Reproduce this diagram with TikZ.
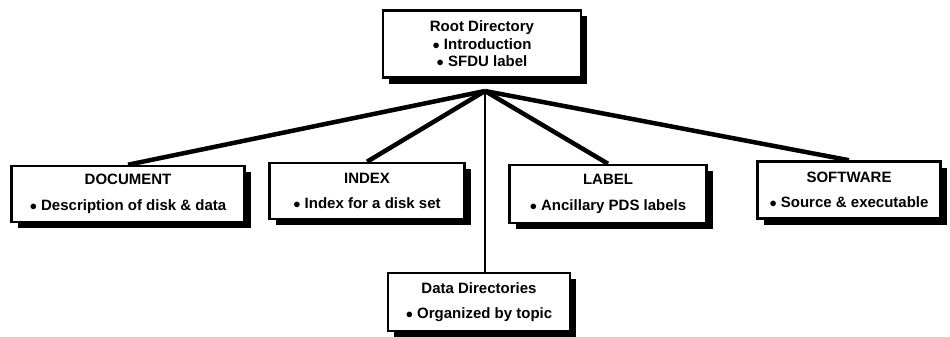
\documentclass[tikz,border=0pt]{standalone}
\usepackage{fontspec}
\setmainfont{Liberation Sans}
\usetikzlibrary{shadows}

\begin{document}
\begin{tikzpicture}[x=1pt,y=-1pt,
	dirbox/.style={draw,line width=2.5pt,fill=white,align=center,inner sep=0pt,
		font=\fontsize{15}{17.5}\selectfont\bfseries,
		drop shadow={shadow xshift=6pt,shadow yshift=-6pt,opacity=1,fill=black}},
	branch/.style={line width=4.5pt},
	stem/.style={line width=2.5pt}]
	\useasboundingbox (0,0) rectangle (950,337);
	
	\node[dirbox,minimum width=198pt,minimum height=67pt] (root) at (482,44) {Root Directory\\$\bullet$ Introduction\\$\bullet$ SFDU label};
	\coordinate (hub) at (485,91);
	
	\node[dirbox,minimum width=233pt,minimum height=56pt] (doc) at (128,194) {DOCUMENT\\[8pt]$\bullet$ Description of disk \& data};
	\node[dirbox,minimum width=195pt,minimum height=56pt] (index) at (367,191) {INDEX\\[8pt]$\bullet$ Index for a disk set};
	\node[dirbox,minimum width=197pt,minimum height=58pt] (label) at (608,194) {LABEL\\[8pt]$\bullet$ Ancillary PDS labels};
	\node[dirbox,minimum width=183pt,minimum height=57pt] (soft) at (849,190) {SOFTWARE\\[8pt]$\bullet$ Source \& executable};
	\node[dirbox,minimum width=182pt,minimum height=58pt] (data) at (479,302) {Data Directories\\[8pt]$\bullet$ Organized by topic};
	
	\foreach \d in {doc,index,label,soft}{
		\draw[branch] (hub) -- (\d.north);
	}
	\draw[stem] (hub) -- (hub |- data.north);
\end{tikzpicture}
\end{document}
